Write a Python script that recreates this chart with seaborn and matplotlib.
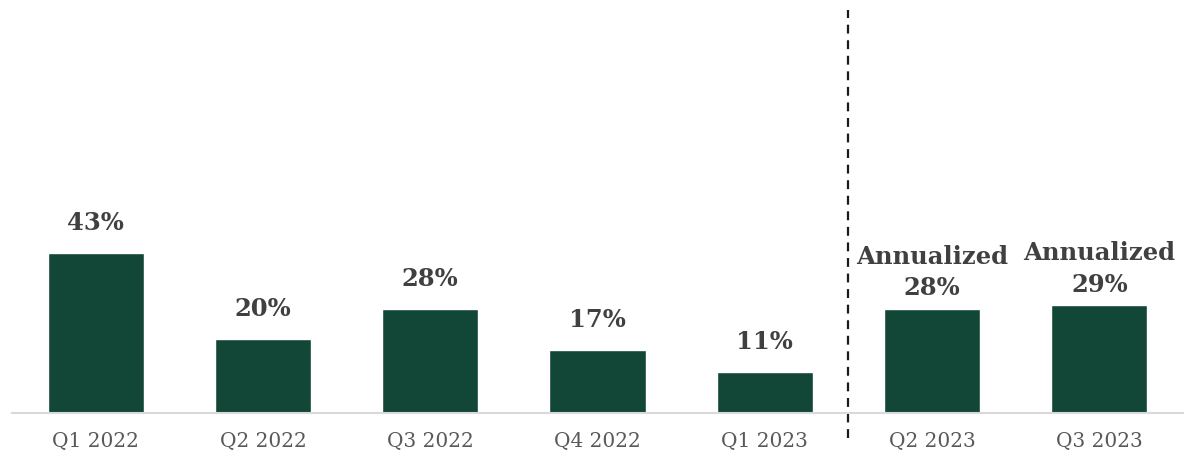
import matplotlib
matplotlib.use("Agg")
import matplotlib.pyplot as plt
import seaborn as sns
import pandas as pd

categories = ["Q1 2022", "Q2 2022", "Q3 2022", "Q4 2022", "Q1 2023", "Q2 2023", "Q3 2023"]
values = [43, 20, 28, 17, 11, 28, 29]
prefixes = ["", "", "", "", "", "Annualized", "Annualized"]

sns.set_theme(style="white")
plt.rcParams["font.family"] = ["DejaVu Serif"]

df = pd.DataFrame({"quarter": categories, "value": values})

fig = plt.figure(figsize=(11.94, 4.59), dpi=100)
ax = fig.add_axes([12 / 1194, 46 / 459, 1171 / 1194, 413 / 459])

sns.barplot(data=df, x="quarter", y="value", color="#124636", width=0.575,
            saturation=1, ax=ax)

ax.set_xlim(-0.5, len(categories) - 0.5)
ax.set_ylim(0, 111)
ax.set_xlabel("")
ax.set_ylabel("")
ax.set_yticks([])
for s in ["top", "right", "left"]:
    ax.spines[s].set_visible(False)
ax.spines["bottom"].set_color("#d9d9d9")
ax.spines["bottom"].set_linewidth(1.5)
ax.tick_params(axis="x", length=0, pad=14, labelsize=14.5, labelcolor="#595959")

for i, (v, p) in enumerate(zip(values, prefixes)):
    txt = f"{p}\n{v}%" if p else f"{v}%"
    ax.annotate(txt, (i, v), xytext=(0, 6 if p else 13), textcoords="offset points",
                ha="center", va="bottom", fontsize=17.5, fontweight="bold",
                color="#404040", linespacing=1.4)

ax.plot([4.5, 4.5], [-0.06, 0.975], transform=ax.get_xaxis_transform(),
        color="#1a1a1a", linestyle=(0, (4, 3)), linewidth=1.6, clip_on=False)

fig.savefig("out.png", dpi=100)
